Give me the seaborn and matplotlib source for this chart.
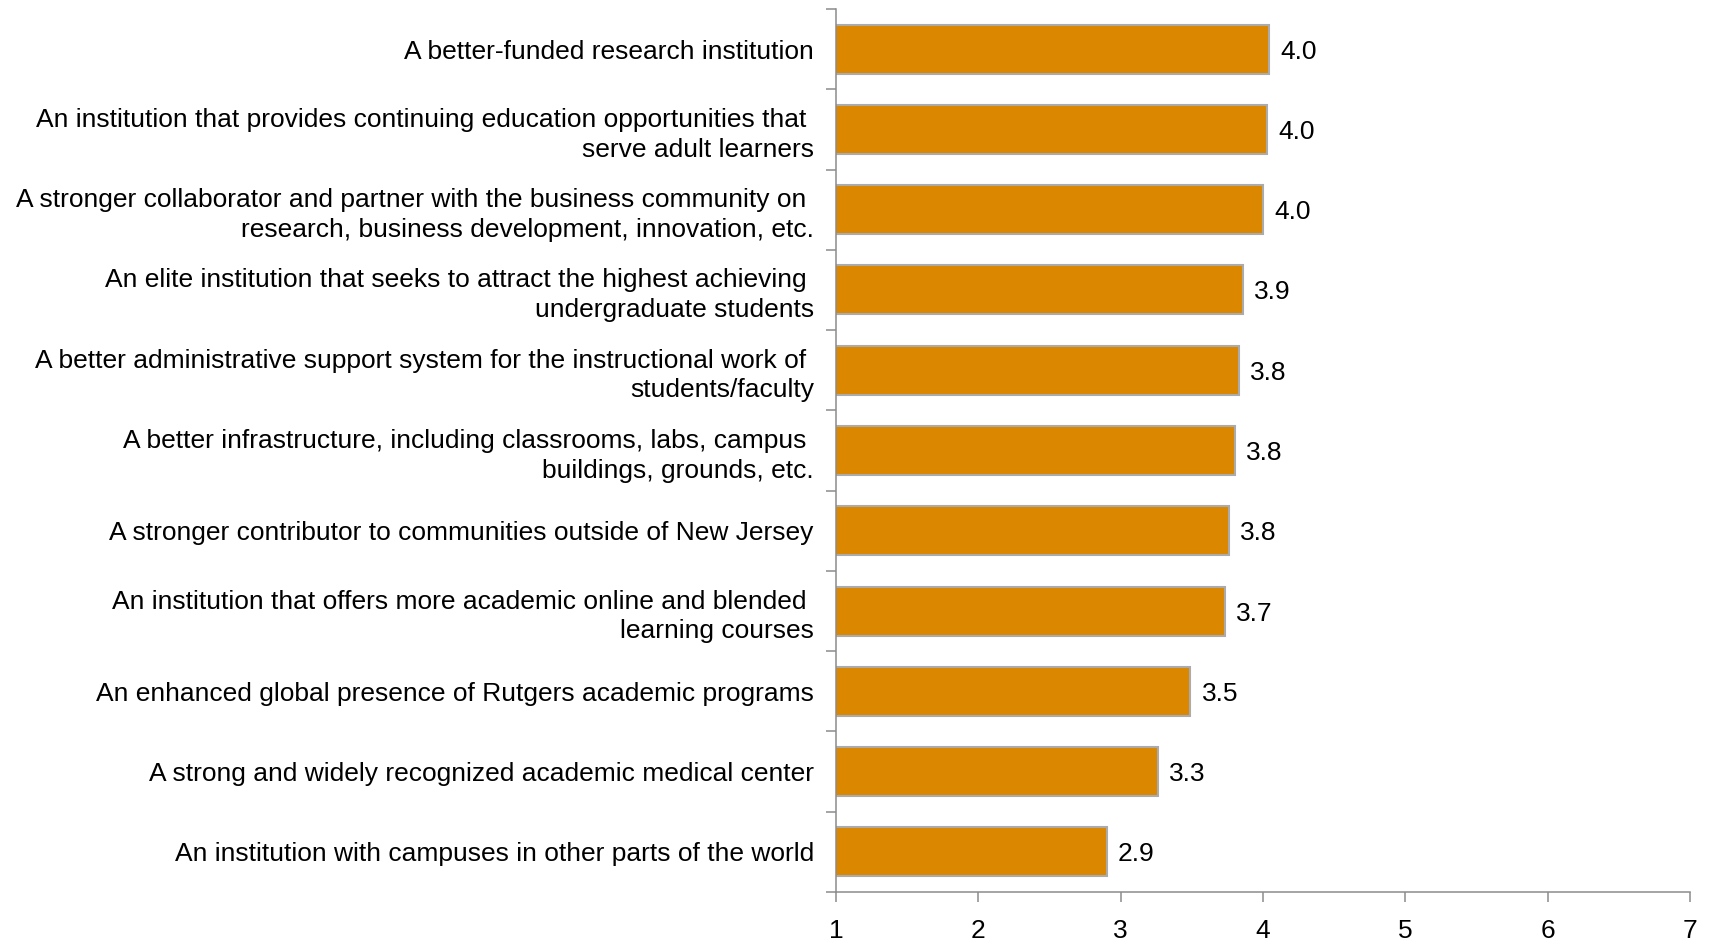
import matplotlib
matplotlib.use("Agg")
import matplotlib.pyplot as plt
import numpy as np
import pandas as pd
import seaborn as sns

categories = [
    "A better-funded research institution",
    "An institution that provides continuing education opportunities that \nserve adult learners",
    "A stronger collaborator and partner with the business community on \nresearch, business development, innovation, etc.",
    "An elite institution that seeks to attract the highest achieving \nundergraduate students",
    "A better administrative support system for the instructional work of \nstudents/faculty",
    "A better infrastructure, including classrooms, labs, campus \nbuildings, grounds, etc.",
    "A stronger contributor to communities outside of New Jersey",
    "An institution that offers more academic online and blended \nlearning courses",
    "An enhanced global presence of Rutgers academic programs",
    "A strong and widely recognized academic medical center",
    "An institution with campuses in other parts of the world",
]
scores = [4.04, 4.03, 4.00, 3.86, 3.83, 3.80, 3.76, 3.73, 3.49, 3.26, 2.90]
x_ticks = [1, 2, 3, 4, 5, 6, 7]

BAR_COLOR = "#DB8700"
EDGE_COLOR = "#ABABAB"
AXIS_COLOR = "#8C8C8C"
FONT_SIZE = 19

sns.set_style("white")
plt.rcParams["font.family"] = ["Liberation Sans", "DejaVu Sans"]
plt.rcParams["text.color"] = "black"
plt.rcParams["xtick.color"] = "black"
plt.rcParams["ytick.color"] = "black"

df = pd.DataFrame({"category": categories, "score": scores})

fig = plt.figure(figsize=(17.26, 9.41), dpi=100)
ax = fig.add_axes([0.4844, 0.0521, 0.4948, 0.9383])

sns.barplot(
    data=df,
    x="score",
    y="category",
    orient="h",
    color=BAR_COLOR,
    edgecolor=EDGE_COLOR,
    linewidth=1.5,
    width=0.61,
    saturation=1,
    ax=ax,
)

ax.set_xlim(1, 7)
ax.set_ylim(len(categories) - 0.5, -0.5)
ax.set_xticks(x_ticks)
ax.set_xticklabels([str(t) for t in x_ticks])
ax.set_xlabel("")
ax.set_ylabel("")

# category labels sit at the bar centres, tick marks at the boundaries
ax.set_yticks(np.arange(len(categories)))
ax.set_yticklabels(categories, fontsize=FONT_SIZE, ha="right", linespacing=1.3)
ax.set_yticks(np.arange(-0.5, len(categories)), minor=True)
ax.tick_params(axis="y", which="both", left=True)
ax.tick_params(axis="y", which="major", length=0, pad=16, labelcolor="black")
ax.tick_params(axis="y", which="minor", length=7.5, width=1.1, color=AXIS_COLOR, direction="out")
ax.tick_params(axis="x", which="major", bottom=True, length=7.5, width=1.1, color=AXIS_COLOR,
               direction="out", labelsize=FONT_SIZE, labelcolor="black", pad=12)

for side in ["top", "right"]:
    ax.spines[side].set_visible(False)
for side in ["left", "bottom"]:
    ax.spines[side].set_color(AXIS_COLOR)
    ax.spines[side].set_linewidth(1.1)

for i, v in enumerate(scores):
    ax.annotate(f"{v:.1f}", xy=(v, i), xytext=(8, 0), textcoords="offset points",
                va="center_baseline", ha="left", fontsize=FONT_SIZE, color="black")

fig.savefig("out.png", dpi=100)
